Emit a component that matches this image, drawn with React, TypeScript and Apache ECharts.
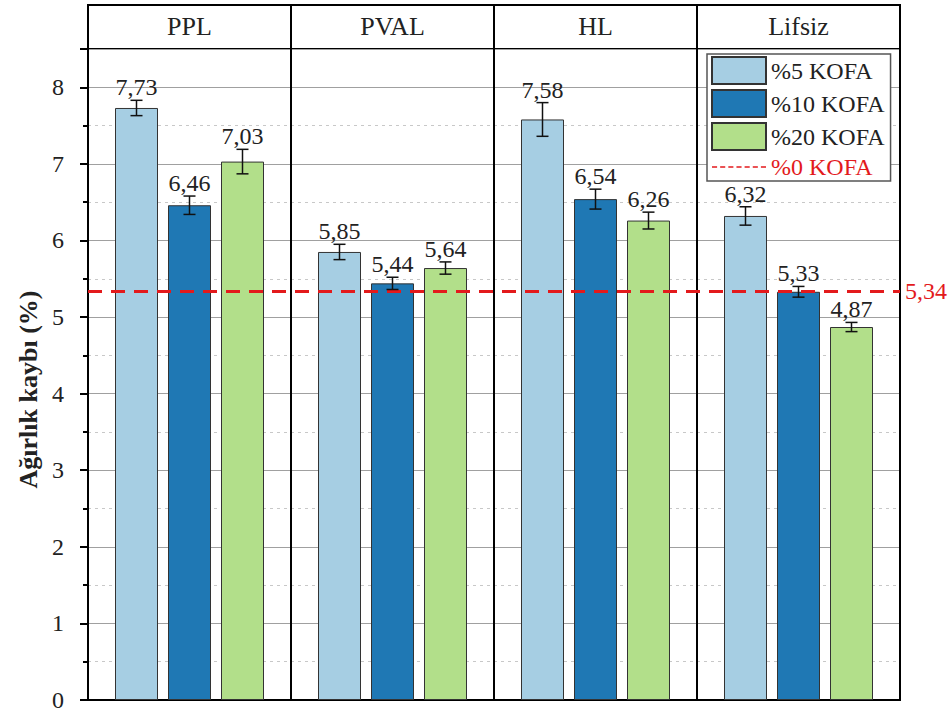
import React, { useEffect, useRef } from "react";
import * as echarts from "echarts";

const categories = ["PPL", "PVAL", "HL", "Lifsiz"];
const seriesNames = ["%5 KOFA", "%10 KOFA", "%20 KOFA"];
const kofa5 = [7.73, 5.85, 7.58, 6.32];
const kofa10 = [6.46, 5.44, 6.54, 5.33];
const kofa20 = [7.03, 5.64, 6.26, 4.87];
const err5 = [0.1, 0.1, 0.22, 0.12];
const err10 = [0.12, 0.08, 0.13, 0.07];
const err20 = [0.16, 0.08, 0.11, 0.06];
const baselineName = "%0 KOFA";
const baseline = 5.34;
const yMin = 0;
const yMax = 8.5;
const yInterval = 1;

const FONT = "'Liberation Serif', 'Times New Roman', serif";
const colors = ["#a6cee3", "#1f78b4", "#b2df8a"];
const RED = "#e31a1c";
const BAR_W = 43;
const BAR_GAP = 10;
const FS = 24;
const DASH_ICON =
  "path://M0,0h5v1.6h-5z M8,0h5v1.6h-5z M16,0h5v1.6h-5z M24,0h5v1.6h-5z M32,0h5v1.6h-5z M40,0h5v1.6h-5z M48,0h5v1.6h-5z";

const fmt = (v: number) => v.toFixed(2).replace(".", ",");

function makeErr(vals: number[], errs: number[], offset: number) {
  return {
    type: "custom",
    xAxisIndex: 0,
    yAxisIndex: 0,
    z: 5,
    data: vals.map((v, i) => [i, v, errs[i]]),
    encode: { x: 0, y: 1 },
    renderItem: (params: any, api: any) => {
      const c = api.value(0);
      const v = api.value(1);
      const e = api.value(2);
      const x = api.coord([c, 0])[0] + offset;
      const top = api.coord([c, v + e])[1];
      const bot = api.coord([c, v - e])[1];
      const cap = 6;
      const st = { stroke: "#111", lineWidth: 1.5 };
      return {
        type: "group",
        children: [
          { type: "line", shape: { x1: x, y1: top, x2: x, y2: bot }, style: st },
          { type: "line", shape: { x1: x - cap, y1: top, x2: x + cap, y2: top }, style: st },
          { type: "line", shape: { x1: x - cap, y1: bot, x2: x + cap, y2: bot }, style: st },
          {
            type: "text",
            x,
            y: top - 1,
            style: {
              text: fmt(v),
              align: "center",
              verticalAlign: "bottom",
              fontSize: FS,
              fontFamily: FONT,
              fill: "#222",
            },
          },
        ],
      };
    },
  };
}

export default function App() {
  const ref = useRef<HTMLDivElement>(null);
  useEffect(() => {
    if (!ref.current) return;
    const chart = echarts.init(ref.current, undefined, { renderer: "svg" });
    const bars = [kofa5, kofa10, kofa20].map((d, i) => ({
      name: seriesNames[i],
      type: "bar",
      xAxisIndex: 0,
      yAxisIndex: 0,
      data: d,
      barWidth: BAR_W,
      barGap: (BAR_GAP / BAR_W) * 100 + "%",
      itemStyle: { color: colors[i], borderColor: "#333", borderWidth: 1 },
      z: 2,
    }));
    const errs = [
      makeErr(kofa5, err5, -(BAR_W + BAR_GAP)),
      makeErr(kofa10, err10, 0),
      makeErr(kofa20, err20, BAR_W + BAR_GAP),
    ];
    chart.setOption({
      animation: false,
      backgroundColor: "#fff",
      textStyle: { fontFamily: FONT },
      grid: [
        { left: 88, right: 50, top: 49, bottom: 15, show: true, borderColor: "#000", borderWidth: 2, backgroundColor: "transparent" },
        { left: 88, right: 50, top: 5, height: 44, show: true, borderColor: "#000", borderWidth: 2, backgroundColor: "transparent" },
      ],
      legend: {
        orient: "vertical",
        left: 707,
        top: 54,
        itemWidth: 54,
        itemHeight: 27,
        itemGap: 4,
        padding: [2, 6, 2, 4],
        borderColor: "#555",
        borderWidth: 1.5,
        backgroundColor: "#fff",
        textStyle: { fontSize: FS, fontFamily: FONT, color: "#222" },
        data: [
          ...seriesNames.map((n) => ({ name: n, icon: "rect" })),
          {
            name: baselineName,
            icon: DASH_ICON,
            itemStyle: { color: RED, borderWidth: 0 },
            textStyle: { color: RED },
          },
        ],
        z: 10,
      },
      xAxis: [
        {
          gridIndex: 0,
          type: "category",
          data: categories,
          axisLabel: { show: false },
          axisTick: { show: false },
          axisLine: { lineStyle: { color: "#000", width: 2 } },
          splitLine: { show: true, lineStyle: { color: "#000", width: 2 } },
        },
        {
          gridIndex: 1,
          type: "category",
          data: categories,
          position: "bottom",
          axisLine: { show: false },
          axisTick: { show: false },
          axisLabel: { inside: true, margin: 10, fontSize: 26, fontFamily: FONT, color: "#222" },
          splitLine: { show: true, lineStyle: { color: "#000", width: 2 } },
        },
      ],
      yAxis: [
        {
          gridIndex: 0,
          type: "value",
          min: yMin,
          max: yMax,
          interval: yInterval,
          name: "Ağırlık kaybı (%)",
          nameLocation: "middle",
          nameGap: 46,
          nameTextStyle: { fontSize: 26, fontWeight: "bold", fontFamily: FONT, color: "#222", padding: [0, 30, 0, 0] },
          axisLine: { show: true, lineStyle: { color: "#000", width: 2 } },
          axisTick: { show: true, length: 8, lineStyle: { color: "#000", width: 2 } },
          minorTick: { show: true, splitNumber: 2, length: 5, lineStyle: { color: "#000", width: 2 } },
          axisLabel: { fontSize: FS, fontFamily: FONT, color: "#222", margin: 24, showMaxLabel: false },
          splitLine: { show: true, lineStyle: { color: "#a0a0a0", width: 1 } },
          minorSplitLine: { show: true, lineStyle: { color: "#c8c8c8", width: 1, type: [3, 4] } },
        },
        { gridIndex: 1, type: "value", show: false },
      ],
      series: [
        ...bars,
        ...errs,
        {
          name: baselineName,
          type: "line",
          xAxisIndex: 0,
          yAxisIndex: 0,
          data: ["-", "-", "-", "-"],
          symbol: "none",
          lineStyle: { color: RED, width: 1.5, type: [4, 3] },
          itemStyle: { color: RED },
          markLine: {
            silent: true,
            symbol: ["none", "none"],
            data: [{ yAxis: baseline }],
            lineStyle: { color: RED, width: 3, type: [14, 9] },
            label: {
              show: true,
              position: "end",
              distance: 5,
              formatter: fmt(baseline),
              color: RED,
              fontSize: FS,
              fontFamily: FONT,
            },
          },
          z: 6,
        },
      ],
    });
    return () => chart.dispose();
  }, []);
  return (
    <div
      ref={ref}
      style={{ position: "fixed", left: 0, top: 0, width: 950, height: 715 }}
    />
  );
}
